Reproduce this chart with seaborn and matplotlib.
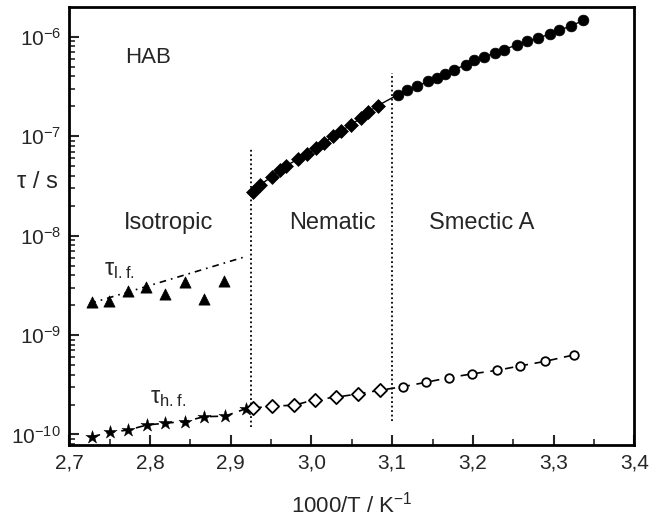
import numpy as np
import pandas as pd
import matplotlib
matplotlib.use("Agg")
import matplotlib.pyplot as plt
import seaborn as sns
from matplotlib.ticker import FixedLocator, FuncFormatter, LogLocator, NullFormatter, MultipleLocator

# ---------------- data ----------------
# main relaxation (filled symbols): nematic (diamonds) and smectic A (circles)
nem_x = [2.928, 2.936, 2.951, 2.961, 2.969, 2.983, 2.994, 3.006, 3.016, 3.027,
         3.037, 3.049, 3.061, 3.070, 3.082]
nem_tau = [2.76e-8, 3.23e-8, 3.91e-8, 4.57e-8, 5.05e-8, 5.86e-8, 6.58e-8, 7.55e-8,
           8.61e-8, 1.007e-7, 1.13e-7, 1.30e-7, 1.52e-7, 1.74e-7, 2.02e-7]
sm_x = [3.107, 3.119, 3.131, 3.144, 3.155, 3.166, 3.177, 3.191, 3.202, 3.214,
        3.227, 3.238, 3.255, 3.267, 3.281, 3.296, 3.307, 3.322, 3.337]
sm_tau = [2.61e-7, 2.88e-7, 3.16e-7, 3.55e-7, 3.84e-7, 4.24e-7, 4.66e-7, 5.22e-7,
          5.77e-7, 6.24e-7, 6.86e-7, 7.40e-7, 8.30e-7, 8.97e-7, 9.70e-7, 1.07e-6,
          1.16e-6, 1.29e-6, 1.46e-6]

# low-frequency process in isotropic phase (triangles)
lf_x = [2.728, 2.749, 2.773, 2.795, 2.818, 2.843, 2.867, 2.892]
lf_tau = [2.15e-9, 2.19e-9, 2.76e-9, 3.05e-9, 2.61e-9, 3.43e-9, 2.28e-9, 3.48e-9]
lf_fit_x = [2.725, 2.920]
lf_fit_tau = [2.07e-9, 6.2e-9]

# high-frequency process: isotropic (stars), nematic (open diamonds), smectic (open circles)
hf_iso_x = [2.728, 2.750, 2.773, 2.796, 2.819, 2.843, 2.867, 2.893, 2.919]
hf_iso_tau = [9.5e-11, 1.05e-10, 1.11e-10, 1.245e-10, 1.30e-10, 1.35e-10, 1.51e-10, 1.53e-10, 1.82e-10]
hf_nem_x = [2.927, 2.951, 2.979, 3.004, 3.030, 3.058, 3.085]
hf_nem_tau = [1.84e-10, 1.93e-10, 1.97e-10, 2.24e-10, 2.37e-10, 2.56e-10, 2.79e-10]
hf_sm_x = [3.113, 3.142, 3.170, 3.199, 3.230, 3.259, 3.289, 3.325]
hf_sm_tau = [3.02e-10, 3.35e-10, 3.72e-10, 4.07e-10, 4.42e-10, 4.90e-10, 5.43e-10, 6.31e-10]

# phase transitions
trans_x = [2.925, 3.100]
trans_top = [7.4e-8, 4.3e-7]
trans_bot = [1.2e-10, 1.36e-10]

x_ticks = [2.7, 2.8, 2.9, 3.0, 3.1, 3.2, 3.3, 3.4]
y_ticks = [1e-10, 1e-9, 1e-8, 1e-7, 1e-6]

# ---------------- plot ----------------
sns.set_style("ticks")
plt.rcParams["font.family"] = ["Liberation Sans", "DejaVu Sans"]
plt.rcParams["mathtext.default"] = "regular"
plt.rcParams["mathtext.fontset"] = "custom"
plt.rcParams["mathtext.rm"] = "Liberation Sans"

fig = plt.figure(figsize=(6.63, 5.22), dpi=100)
ax = fig.add_axes([69.3 / 663, 1 - 445 / 522, 565 / 663, 438 / 522])

main = pd.DataFrame({"x": nem_x + sm_x, "tau": nem_tau + sm_tau})
sns.lineplot(data=main, x="x", y="tau", ax=ax, color="black", lw=1.0,
             sort=False, estimator=None)
sns.scatterplot(x=nem_x, y=nem_tau, ax=ax, marker="D", s=50, color="black",
                edgecolor="black", linewidth=0.5, zorder=3)
sns.scatterplot(x=sm_x, y=sm_tau, ax=ax, marker="o", s=60, color="black",
                edgecolor="black", linewidth=0.5, zorder=3)

# low frequency
sns.lineplot(x=lf_fit_x, y=lf_fit_tau, ax=ax, color="black", lw=1.2,
             linestyle=(0, (4, 3, 1, 3)))
sns.scatterplot(x=lf_x, y=lf_tau, ax=ax, marker="^", s=65, color="black",
                edgecolor="black", linewidth=0.5, zorder=3)

# high frequency
hf = pd.DataFrame({"x": hf_iso_x + hf_nem_x + hf_sm_x,
                   "tau": hf_iso_tau + hf_nem_tau + hf_sm_tau})
sns.lineplot(data=hf, x="x", y="tau", ax=ax, color="black", lw=1.2,
             linestyle=(0, (5, 4)), sort=False, estimator=None)
sns.scatterplot(x=hf_iso_x, y=hf_iso_tau, ax=ax, marker="*", s=100, color="black",
                edgecolor="black", linewidth=0.3, zorder=3)
sns.scatterplot(x=hf_nem_x, y=hf_nem_tau, ax=ax, marker="D", s=45, color="white",
                edgecolor="black", linewidth=1.3, zorder=3)
sns.scatterplot(x=hf_sm_x, y=hf_sm_tau, ax=ax, marker="o", s=38, color="white",
                edgecolor="black", linewidth=1.3, zorder=3)

for xv, yt, yb in zip(trans_x, trans_top, trans_bot):
    ax.plot([xv, xv], [yb, yt], color="black", lw=1.3, linestyle=(0, (1, 1.5)))

ax.set_yscale("log")
ax.set_xlim(2.7, 3.4)
ax.set_ylim(7.84e-11, 1.99e-6)

ax.xaxis.set_major_locator(FixedLocator(x_ticks))
ax.xaxis.set_minor_locator(MultipleLocator(0.05))
ax.xaxis.set_major_formatter(FuncFormatter(lambda v, p: f"{v:.1f}".replace(".", ",")))
ax.yaxis.set_major_locator(FixedLocator(y_ticks))
ax.yaxis.set_minor_locator(LogLocator(base=10, subs=np.arange(2, 10)))
ax.yaxis.set_minor_formatter(NullFormatter())
ax.yaxis.set_major_formatter(FuncFormatter(
    lambda v, p: "10$^{%d}$" % int(round(np.log10(v)))))

ax.tick_params(axis="both", which="major", direction="in", length=7, width=1.5,
               labelsize=15, pad=6)
ax.tick_params(axis="both", which="minor", direction="in", length=4, width=1.2)
for sp in ax.spines.values():
    sp.set_linewidth(2.0)
    sp.set_color("black")

ax.set_xlabel("1000/T / K$^{-1}$", fontsize=16, labelpad=14)
ax.set_ylabel("τ / s", fontsize=17, rotation=0, ha="center", va="center")
ax.yaxis.set_label_coords(-0.057, 0.60)

ax.text(2.797, 10 ** -6.21, "HAB", fontsize=16, ha="center", va="center")
ax.text(2.823, 10 ** -7.87, "Isotropic", fontsize=17, ha="center", va="center")
ax.text(3.0254, 10 ** -7.87, "Nematic", fontsize=17, ha="center", va="center")
ax.text(3.2115, 10 ** -7.87, "Smectic A", fontsize=17, ha="center", va="center")
ax.text(2.743, 10 ** -8.395, "τ$_{l.f.}$", fontsize=17, ha="left", va="baseline")
ax.text(2.800, 10 ** -9.683, "τ$_{h.f.}$", fontsize=17, ha="left", va="baseline")

fig.savefig("out.png", dpi=100)
